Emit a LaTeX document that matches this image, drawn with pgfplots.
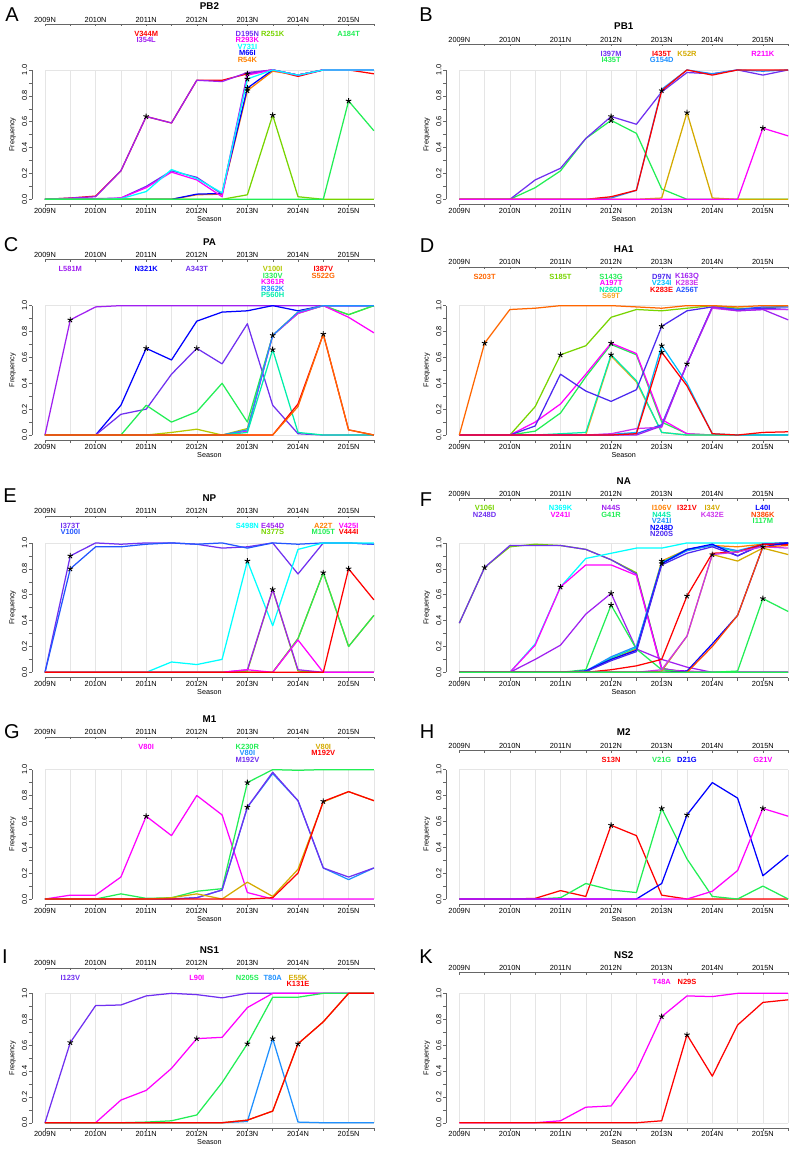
\documentclass[border=0pt]{standalone}
\usepackage{fontspec}
\setmainfont{Liberation Sans}
\usepackage{pgfplots}
\usepackage{pgfplotstable}
\pgfplotsset{compat=1.18}

\definecolor{cRed}{HTML}{FF0000}
\definecolor{cMag}{HTML}{FF00FF}
\definecolor{cPurp}{HTML}{A020F0}
\definecolor{cPMag}{HTML}{CC33EE}
\definecolor{cVio}{HTML}{7030F0}
\definecolor{cBVio}{HTML}{4B28F0}
\definecolor{cBlue}{HTML}{0000FF}
\definecolor{cRoyal}{HTML}{2255FF}
\definecolor{cDodg}{HTML}{1E90FF}
\definecolor{cDSky}{HTML}{00BFFF}
\definecolor{cCyan}{HTML}{00FFFF}
\definecolor{cAqua}{HTML}{00EEAA}
\definecolor{cGreen}{HTML}{22EE55}
\definecolor{cYG}{HTML}{77D400}
\definecolor{cOlive}{HTML}{B4C800}
\definecolor{cGold}{HTML}{D4AA00}
\definecolor{cGoldB}{HTML}{F5A623}
\definecolor{cOrng}{HTML}{FF8000}
\definecolor{cOrngB}{HTML}{FF6600}
\definecolor{cORed}{HTML}{FF4500}

% frequencies per season (x = 0 is 2009N, one step per half season)
\pgfplotstableread{
x V344M I354L D195N R293K V731I M66I R54K R251K A184T
0 0 0 0 0 0 0 0 0 0
1 0.01 0.01 0 0 0 0 0 0 0
2 0.025 0.02 0.005 0 0 0 0 0 0
3 0.22 0.22 0.01 0.01 0.005 0 0 0 0
4 0.64 0.64 0.10 0.09 0.06 0 0 0 0
5 0.59 0.59 0.22 0.21 0.23 0 0 0 0
6 0.92 0.92 0.17 0.15 0.16 0.04 0.035 0 0
7 0.92 0.91 0.04 0.02 0.05 0.045 0.04 0 0
8 0.97 0.98 0.97 0.96 0.93 0.86 0.84 0.035 0
9 1 1 1 1 1 1 0.99 0.65 0
10 0.95 0.96 0.96 0.96 0.96 0.96 0.96 0.02 0
11 1 1 1 1 1 1 1 0 0
12 1 1 1 1 1 1 1 0 0.76
13 0.97 1 1 1 1 1 1 0 0.53
}\tA
\pgfplotstableread{
x I397M I435Tg I435Tr G154D K52R R211K
0 0 0 0 0 0 0
1 0 0 0 0 0 0
2 0 0 0 0 0 0
3 0.15 0.09 0 0 0 0
4 0.24 0.22 0 0 0 0
5 0.47 0.47 0 0 0 0
6 0.64 0.61 0.02 0.01 0 0
7 0.58 0.51 0.07 0.07 0 0
8 0.83 0.08 0.84 0.85 0.01 0
9 0.98 0 1 1 0.67 0
10 0.97 0 0.96 0.97 0.01 0
11 1 0 1 1 0 0
12 0.96 0 1 0.99 0 0.55
13 1 0 1 1 0 0.49
}\tB
\pgfplotstableread{
x L581M N321K A343T V100I I330V K361R R362K P560H I387V S522G
0 0 0 0 0 0 0 0 0 0 0
1 0.89 0 0 0 0 0 0 0 0 0
2 0.99 0 0 0 0 0 0 0 0 0
3 1 0.23 0.16 0 0 0 0 0 0 0
4 1 0.67 0.20 0 0.23 0 0 0 0 0
5 1 0.58 0.47 0.02 0.10 0 0 0 0 0
6 1 0.88 0.67 0.045 0.18 0 0 0 0 0
7 1 0.95 0.55 0 0.40 0 0 0 0 0
8 1 0.96 0.86 0.05 0.10 0.03 0.04 0.02 0 0
9 1 1 0.23 0.77 0.77 0.77 0.77 0.66 0 0
10 1 0.96 0.01 0.95 0.94 0.94 0.95 0.02 0.24 0.22
11 1 1 0 1 1 1 1 0 0.78 0.78
12 1 1 0 0.93 0.93 0.91 1 0 0.04 0.04
13 1 1 0 1 1 0.79 1 0 0 0
}\tC
\pgfplotstableread{
x S203T S185T S143G A197T N260D S69T D97N V234I K283Er K163Q K283Ep A256T
0 0 0 0 0 0 0 0 0 0 0 0 0
1 0.71 0 0 0 0 0 0 0 0 0 0 0
2 0.97 0 0 0 0 0 0 0 0 0 0 0
3 0.98 0.22 0.03 0.10 0 0 0.07 0 0 0 0 0
4 1 0.62 0.17 0.24 0.01 0 0.47 0 0 0 0 0
5 1 0.69 0.45 0.47 0.02 0 0.34 0 0 0 0 0
6 1 0.91 0.70 0.71 0.62 0.61 0.26 0.005 0 0 0.01 0
7 0.99 0.97 0.62 0.63 0.42 0.41 0.35 0.02 0.01 0 0.05 0.01
8 0.98 0.96 0.10 0.12 0.02 0.02 0.84 0.69 0.64 0.07 0.06 0.08
9 1 0.98 0.01 0.01 0 0 0.96 0.40 0.38 0.55 0.55 0.55
10 1 1 0 0 0 0 0.99 0.01 0.01 0.99 0.98 0.99
11 0.99 0.98 0 0 0 0 0.97 0 0 0.96 0.96 0.97
12 1 0.98 0 0 0 0 0.98 0 0.02 0.97 0.97 0.99
13 1 1 0 0 0 0 0.97 0 0.025 0.89 0.97 0.99
}\tD
\pgfplotstableread{
x I373T V100I S498N E454D N377S A22T M105T V425I V444I
0 0 0 0 0 0 0 0 0 0
1 0.90 0.80 0 0 0 0 0 0 0
2 1 0.97 0 0 0 0 0 0 0
3 0.99 0.97 0 0 0 0 0 0 0
4 1 0.99 0 0 0 0 0 0 0
5 1 1 0.08 0 0 0 0 0 0
6 0.99 0.99 0.06 0 0 0 0 0 0
7 0.96 1 0.10 0 0 0 0 0 0
8 0.97 0.96 0.86 0.02 0.01 0 0 0.02 0
9 1 1 0.36 0.64 0.64 0 0 0 0
10 0.76 0.99 0.95 0.02 0.01 0.26 0.26 0.25 0
11 1 1 1 0 0 0.77 0.77 0 0
12 1 1 1 0 0 0.20 0.20 0 0.80
13 0.99 0.99 1 0 0 0.44 0.44 0 0.56
}\tE
\pgfplotstableread{
x V106I N248Dv N369K V241Im N44Sp G41R I106V N44Sa V241Id N248Db N200S I321V I34V K432E L40I N386K I117M
0 0.38 0.38 0 0 0 0 0 0 0 0 0 0 0 0 0 0 0
1 0.81 0.81 0 0 0 0 0 0 0 0 0 0 0 0 0 0 0
2 0.97 0.98 0 0 0 0 0 0 0 0 0 0 0 0 0 0 0
3 0.99 0.98 0.22 0.21 0.10 0 0 0 0 0 0 0 0 0 0 0 0
4 0.98 0.98 0.66 0.66 0.21 0 0 0 0 0 0 0 0 0 0 0 0
5 0.95 0.95 0.88 0.83 0.45 0.02 0.01 0.01 0.01 0.01 0.005 0 0 0 0 0 0
6 0.87 0.87 0.92 0.83 0.61 0.52 0.10 0.11 0.12 0.10 0.09 0.02 0 0 0 0 0
7 0.77 0.76 0.96 0.75 0.18 0.18 0.18 0.19 0.20 0.17 0.16 0.05 0 0 0 0 0
8 0.03 0.03 0.96 0.02 0.10 0.02 0.86 0.85 0.84 0.84 0.83 0.10 0.01 0.02 0 0 0
9 0 0 1 0.01 0.04 0 0.95 0.95 0.94 0.95 0.92 0.59 0.28 0.28 0.01 0 0
10 0 0 1 0 0 0 0.98 0.98 0.98 0.99 0.97 0.92 0.91 0.91 0.22 0.20 0
11 0 0 1 0 0 0 0.97 0.93 0.94 0.90 0.90 0.93 0.86 0.93 0.44 0.44 0.01
12 0 0 1 0 0 0 0.99 0.99 0.99 0.99 0.99 0.99 0.96 0.97 0.97 0.97 0.57
13 0 0 1 0 0 0 1 1 1 1 1 0.99 0.91 0.96 1 0.98 0.47
}\tF
\pgfplotstableread{
x V80Im K230R V80Id M192Vv V80Ig M192Vr
0 0 0 0 0 0 0
1 0.03 0 0 0 0 0
2 0.03 0 0 0 0 0
3 0.17 0.04 0 0 0 0
4 0.64 0.005 0 0 0 0
5 0.49 0.01 0 0 0.01 0
6 0.80 0.06 0.01 0.01 0.04 0
7 0.65 0.08 0.07 0.07 0 0
8 0.05 0.90 0.71 0.71 0.13 0
9 0 1 0.97 0.98 0.02 0.01
10 0 0.995 0.76 0.76 0.23 0.20
11 0 1 0.24 0.24 0.75 0.755
12 0 1 0.15 0.17 0.83 0.83
13 0 1 0.24 0.24 0.76 0.76
}\tG
\pgfplotstableread{
x S13N V21G D21G G21V
0 0 0 0 0
1 0 0 0 0
2 0 0 0 0
3 0.005 0 0 0
4 0.065 0.01 0 0
5 0.02 0.12 0 0
6 0.57 0.07 0 0
7 0.49 0.05 0 0
8 0.03 0.70 0.12 0
9 0 0.31 0.65 0
10 0 0.02 0.90 0.06
11 0 0 0.78 0.22
12 0 0.10 0.18 0.70
13 0 0 0.34 0.64
}\tH
\pgfplotstableread{
x I123V L90I N205S T80A E55K K131E
0 0 0 0 0 0 0
1 0.62 0 0 0 0 0
2 0.905 0 0 0 0 0
3 0.91 0.175 0 0 0 0
4 0.98 0.25 0.005 0 0 0
5 1 0.42 0.015 0 0 0
6 0.99 0.65 0.06 0 0 0
7 0.965 0.66 0.31 0 0 0
8 1 0.89 0.61 0.01 0.02 0.02
9 1 1 0.97 0.65 0.09 0.09
10 1 1 0.97 0.005 0.61 0.61
11 1 1 1 0 0.78 0.78
12 1 1 1 0 1 1
13 1 1 1 0 1 1
}\tI
\pgfplotstableread{
x T48A N29S
0 0 0
1 0 0
2 0 0
3 0 0
4 0.015 0
5 0.12 0
6 0.13 0
7 0.40 0
8 0.82 0.015
9 0.98 0.68
10 0.975 0.36
11 1 0.755
12 1 0.93
13 1 0.95
}\tK

\newcommand{\fs}[1]{\fontsize{#1}{#1}\selectfont}

\pgfplotsset{
  /pgf/number format/assume math mode=true,
  mainax/.style={
    scale only axis, width=355.2pt, height=139.75pt, anchor=south west,
    xmin=-0.52, xmax=13.52, ymin=-0.04, ymax=1.04,
    axis line style={draw=none},
    tick pos=left, tick align=outside,
    major tick length=3pt, minor tick length=3pt,
    tick style={black!60, line width=0.4pt},
    xtick={0,...,13},
    xticklabels={2009N,,2010N,,2011N,,2012N,,2013N,,2014N,,2015N,},
    ytick={0,0.2,0.4,0.6,0.8,1},
    minor ytick={0.1,0.3,0.5,0.7,0.9},
    tick label style={font=\fs{7.4}},
    xticklabel style={inner sep=0.5pt},
    yticklabel style={rotate=90, anchor=south, inner sep=1.5pt,
      /pgf/number format/.cd, fixed, fixed zerofill, precision=1},
    xlabel={Season}, ylabel={Frequency},
    label style={font=\fs{7.2}},
    xlabel shift=-1pt, ylabel shift=1pt,
    clip=false,
    every axis plot/.append style={line width=1.25pt, line join=round},
  },
  topax/.style={
    scale only axis, width=328.9pt, height=1pt, anchor=north west,
    xmin=0, xmax=13, ymin=0, ymax=1,
    axis x line=top, axis y line=none,
    x axis line style={-, black!60, line width=0.4pt},
    tick align=inside, major tick length=2.5pt,
    tick style={black!60, line width=0.4pt},
    xtick={0,...,13},
    xticklabels={2009N,,2010N,,2011N,,2012N,,2013N,,2014N,,2015N,},
    tick label style={font=\fs{7.4}, inner sep=1.5pt},
    clip=false,
  },
  starp/.style={only marks, mark=star, mark size=2.9pt, black,
    mark options={line width=0.9pt}},
}
\tikzset{
  gridc/.style={black!10, line width=0.4pt},
  axc/.style={black!60, line width=0.4pt},
  labst/.style={font=\fs{7.5}\bfseries, inner sep=0pt},
  ttl/.style={font=\fs{9.8}\bfseries},
  letter/.style={font=\fs{20}},
}
% R-like frame: light grid, axis lines only over the data range
\newcommand{\rgrid}{%
  \pgfplotsinvokeforeach{0,...,13}{\draw[gridc] (axis cs:##1,0) -- (axis cs:##1,1);}%
  \draw[gridc] (axis cs:0,1) -- (axis cs:13,1);
  \draw[gridc] (axis cs:0,0) -- (axis cs:13,0);
  \draw[axc] (axis cs:0,-0.04) -- (axis cs:13,-0.04);
  \draw[axc] (axis cs:-0.52,0) -- (axis cs:-0.52,1);}
% mutation label: x position, y offset below the top scale, colour, text
\newcommand{\lab}[4]{\node[labst,text=#3] at (axis cs:#1,#2) {#4};}

\begin{document}
\begin{tikzpicture}
\useasboundingbox (0,0) rectangle (794pt,-1150pt);

% ---------------- A  PB2
\begin{axis}[mainax, at={(31.84pt,-204.5pt)}]
\rgrid
\addplot[cRed] table[x=x,y=V344M]{\tA};
\addplot[cPurp] table[x=x,y=I354L]{\tA};
\addplot[cOrng] table[x=x,y=R54K]{\tA};
\addplot[cBlue] table[x=x,y=M66I]{\tA};
\addplot[cVio] table[x=x,y=D195N]{\tA};
\addplot[cMag] table[x=x,y=R293K]{\tA};
\addplot[cCyan] table[x=x,y=V731I]{\tA};
\addplot[cYG] table[x=x,y=R251K]{\tA};
\addplot[cGreen] table[x=x,y=A184T]{\tA};
\addplot[starp] coordinates {(4,0.64)(8,0.97)(8,0.93)(8,0.86)(8,0.84)(9,0.65)(12,0.76)};
\end{axis}
\begin{axis}[topax, at={(45pt,-24pt)}]
\node[ttl] at (axis cs:6.5,18.5) {PB2};
\lab{4}{-9}{cRed}{V344M}
\lab{4}{-15.4}{cPurp}{I354L}
\lab{8}{-9}{cVio}{D195N}
\lab{8}{-15.4}{cMag}{R293K}
\lab{8}{-21.8}{cCyan}{V731I}
\lab{8}{-28.2}{cBlue}{M66I}
\lab{8}{-34.6}{cOrng}{R54K}
\lab{9}{-9}{cYG}{R251K}
\lab{12}{-9}{cGreen}{A184T}
\end{axis}
\node[letter] at (12pt,-15pt) {A};

% ---------------- B  PB1
\begin{axis}[mainax, at={(446.14pt,-204.5pt)}]
\rgrid
\addplot[cGreen] table[x=x,y=I435Tg]{\tB};
\addplot[cVio] table[x=x,y=I397M]{\tB};
\addplot[cDodg] table[x=x,y=G154D]{\tB};
\addplot[cRed] table[x=x,y=I435Tr]{\tB};
\addplot[cGold] table[x=x,y=K52R]{\tB};
\addplot[cMag] table[x=x,y=R211K]{\tB};
\addplot[starp] coordinates {(6,0.64)(6,0.61)(8,0.84)(9,0.67)(12,0.55)};
\end{axis}
\begin{axis}[topax, at={(459.3pt,-44pt)}]
\node[ttl] at (axis cs:6.5,18.5) {PB1};
\lab{6}{-9}{cVio}{I397M}
\lab{6}{-15.4}{cGreen}{I435T}
\lab{8}{-9}{cRed}{I435T}
\lab{8}{-15.4}{cDodg}{G154D}
\lab{9}{-9}{cGold}{K52R}
\lab{12}{-9}{cMag}{R211K}
\end{axis}
\node[letter] at (426pt,-15pt) {B};

% ---------------- C  PA
\begin{axis}[mainax, at={(31.84pt,-440.2pt)}]
\rgrid
\addplot[cPurp] table[x=x,y=L581M]{\tC};
\addplot[cBlue] table[x=x,y=N321K]{\tC};
\addplot[cVio] table[x=x,y=A343T]{\tC};
\addplot[cOlive] table[x=x,y=V100I]{\tC};
\addplot[cGreen] table[x=x,y=I330V]{\tC};
\addplot[cMag] table[x=x,y=K361R]{\tC};
\addplot[cDodg] table[x=x,y=R362K]{\tC};
\addplot[cAqua] table[x=x,y=P560H]{\tC};
\addplot[cRed] table[x=x,y=I387V]{\tC};
\addplot[cOrngB] table[x=x,y=S522G]{\tC};
\addplot[starp] coordinates {(1,0.89)(4,0.67)(6,0.67)(9,0.77)(9,0.66)(11,0.78)};
\end{axis}
\begin{axis}[topax, at={(45pt,-259.3pt)}]
\node[ttl] at (axis cs:6.5,18.5) {PA};
\lab{1}{-9}{cPurp}{L581M}
\lab{4}{-9}{cBlue}{N321K}
\lab{6}{-9}{cVio}{A343T}
\lab{9}{-9}{cOlive}{V100I}
\lab{9}{-15.4}{cGreen}{I330V}
\lab{9}{-21.8}{cMag}{K361R}
\lab{9}{-28.2}{cDodg}{R362K}
\lab{9}{-34.6}{cAqua}{P560H}
\lab{11}{-9}{cRed}{I387V}
\lab{11}{-15.4}{cOrngB}{S522G}
\end{axis}
\node[letter] at (11pt,-245pt) {C};

% ---------------- D  HA1
\begin{axis}[mainax, at={(446.14pt,-440.2pt)}]
\rgrid
\addplot[cYG] table[x=x,y=S185T]{\tD};
\addplot[cGreen] table[x=x,y=S143G]{\tD};
\addplot[cMag] table[x=x,y=A197T]{\tD};
\addplot[cGoldB] table[x=x,y=S69T]{\tD};
\addplot[cAqua] table[x=x,y=N260D]{\tD};
\addplot[cBVio] table[x=x,y=D97N]{\tD};
\addplot[cDSky] table[x=x,y=V234I]{\tD};
\addplot[cRoyal] table[x=x,y=A256T]{\tD};
\addplot[cPMag] table[x=x,y=K283Ep]{\tD};
\addplot[cPurp] table[x=x,y=K163Q]{\tD};
\addplot[cRed] table[x=x,y=K283Er]{\tD};
\addplot[cOrngB] table[x=x,y=S203T]{\tD};
\addplot[starp] coordinates {(1,0.71)(4,0.62)(6,0.71)(6,0.62)(8,0.84)(8,0.69)(8,0.64)(9,0.55)};
\end{axis}
\begin{axis}[topax, at={(459.3pt,-266.7pt)}]
\node[ttl] at (axis cs:6.5,18.5) {HA1};
\lab{1}{-9}{cOrngB}{S203T}
\lab{4}{-9}{cYG}{S185T}
\lab{6}{-9}{cGreen}{S143G}
\lab{6}{-15.4}{cMag}{A197T}
\lab{6}{-21.8}{cAqua}{N260D}
\lab{6}{-28.2}{cGoldB}{S69T}
\lab{8}{-9}{cBVio}{D97N}
\lab{8}{-15.4}{cDSky}{V234I}
\lab{8}{-21.8}{cRed}{K283E}
\lab{9}{-9}{cPurp}{K163Q}
\lab{9}{-15.4}{cPMag}{K283E}
\lab{9}{-21.8}{cRoyal}{A256T}
\end{axis}
\node[letter] at (427pt,-246pt) {D};

% ---------------- E  NP
\begin{axis}[mainax, at={(31.84pt,-677.5pt)}]
\rgrid
\addplot[cVio] table[x=x,y=I373T]{\tE};
\addplot[cRoyal] table[x=x,y=V100I]{\tE};
\addplot[cCyan] table[x=x,y=S498N]{\tE};
\addplot[cYG] table[x=x,y=N377S]{\tE};
\addplot[cPurp] table[x=x,y=E454D]{\tE};
\addplot[cOrng] table[x=x,y=A22T]{\tE};
\addplot[cGreen] table[x=x,y=M105T]{\tE};
\addplot[cMag] table[x=x,y=V425I]{\tE};
\addplot[cRed] table[x=x,y=V444I]{\tE};
\addplot[starp] coordinates {(1,0.90)(1,0.80)(8,0.86)(9,0.64)(11,0.77)(12,0.80)};
\end{axis}
\begin{axis}[topax, at={(45pt,-515.7pt)}]
\node[ttl] at (axis cs:6.5,18.5) {NP};
\lab{1}{-9}{cVio}{I373T}
\lab{1}{-15.4}{cRoyal}{V100I}
\lab{8}{-9}{cCyan}{S498N}
\lab{9}{-9}{cPurp}{E454D}
\lab{9}{-15.4}{cYG}{N377S}
\lab{11}{-9}{cOrng}{A22T}
\lab{11}{-15.4}{cGreen}{M105T}
\lab{12}{-9}{cMag}{V425I}
\lab{12}{-15.4}{cRed}{V444I}
\end{axis}
\node[letter] at (10pt,-496pt) {E};

% ---------------- F  NA
\begin{axis}[mainax, at={(446.14pt,-677.5pt)}]
\rgrid
\addplot[cYG] table[x=x,y=V106I]{\tF};
\addplot[cVio] table[x=x,y=N248Dv]{\tF};
\addplot[cCyan] table[x=x,y=N369K]{\tF};
\addplot[cMag] table[x=x,y=V241Im]{\tF};
\addplot[cPurp] table[x=x,y=N44Sp]{\tF};
\addplot[cGreen] table[x=x,y=G41R]{\tF};
\addplot[cOrng] table[x=x,y=I106V]{\tF};
\addplot[cAqua] table[x=x,y=N44Sa]{\tF};
\addplot[cDodg] table[x=x,y=V241Id]{\tF};
\addplot[cBlue] table[x=x,y=N248Db]{\tF};
\addplot[cBVio] table[x=x,y=N200S]{\tF};
\addplot[cRed] table[x=x,y=I321V]{\tF};
\addplot[cGold] table[x=x,y=I34V]{\tF};
\addplot[cPMag] table[x=x,y=K432E]{\tF};
\addplot[cBlue] table[x=x,y=L40I]{\tF};
\addplot[cORed] table[x=x,y=N386K]{\tF};
\addplot[cGreen] table[x=x,y=I117M]{\tF};
\addplot[starp] coordinates {(1,0.81)(4,0.66)(6,0.61)(6,0.52)(8,0.86)(8,0.84)(9,0.59)(10,0.91)(12,0.97)(12,0.57)};
\end{axis}
\begin{axis}[topax, at={(459.3pt,-498.3pt)}]
\node[ttl] at (axis cs:6.5,18.5) {NA};
\lab{1}{-9}{cYG}{V106I}
\lab{1}{-15.4}{cVio}{N248D}
\lab{4}{-9}{cCyan}{N369K}
\lab{4}{-15.4}{cMag}{V241I}
\lab{6}{-9}{cPurp}{N44S}
\lab{6}{-15.4}{cGreen}{G41R}
\lab{8}{-9}{cOrng}{I106V}
\lab{8}{-15.4}{cAqua}{N44S}
\lab{8}{-21.8}{cDodg}{V241I}
\lab{8}{-28.2}{cBlue}{N248D}
\lab{8}{-34.6}{cBVio}{N200S}
\lab{9}{-9}{cRed}{I321V}
\lab{10}{-9}{cGold}{I34V}
\lab{10}{-15.4}{cPMag}{K432E}
\lab{12}{-9}{cBlue}{L40I}
\lab{12}{-15.4}{cORed}{N386K}
\lab{12}{-21.8}{cGreen}{I117M}
\end{axis}
\node[letter] at (426pt,-500pt) {F};

% ---------------- G  M1
\begin{axis}[mainax, at={(31.84pt,-904.2pt)}]
\rgrid
\addplot[cMag] table[x=x,y=V80Im]{\tG};
\addplot[cGreen] table[x=x,y=K230R]{\tG};
\addplot[cDodg] table[x=x,y=V80Id]{\tG};
\addplot[cVio] table[x=x,y=M192Vv]{\tG};
\addplot[cGold] table[x=x,y=V80Ig]{\tG};
\addplot[cRed] table[x=x,y=M192Vr]{\tG};
\addplot[starp] coordinates {(4,0.64)(8,0.90)(8,0.71)(11,0.755)};
\end{axis}
\begin{axis}[topax, at={(45pt,-736.7pt)}]
\node[ttl] at (axis cs:6.5,18.5) {M1};
\lab{4}{-9}{cMag}{V80I}
\lab{8}{-9}{cGreen}{K230R}
\lab{8}{-15.4}{cDodg}{V80I}
\lab{8}{-21.8}{cVio}{M192V}
\lab{11}{-9}{cGold}{V80I}
\lab{11}{-15.4}{cRed}{M192V}
\end{axis}
\node[letter] at (12pt,-732pt) {G};

% ---------------- H  M2
\begin{axis}[mainax, at={(446.14pt,-904.2pt)}]
\rgrid
\addplot[cRed] table[x=x,y=S13N]{\tH};
\addplot[cGreen] table[x=x,y=V21G]{\tH};
\addplot[cBlue] table[x=x,y=D21G]{\tH};
\addplot[cMag] table[x=x,y=G21V]{\tH};
\addplot[starp] coordinates {(6,0.57)(8,0.70)(9,0.65)(12,0.70)};
\end{axis}
\begin{axis}[topax, at={(459.3pt,-750pt)}]
\node[ttl] at (axis cs:6.5,18.5) {M2};
\lab{6}{-9}{cRed}{S13N}
\lab{8}{-9}{cGreen}{V21G}
\lab{9}{-9}{cBlue}{D21G}
\lab{12}{-9}{cMag}{G21V}
\end{axis}
\node[letter] at (427pt,-732pt) {H};

% ---------------- I  NS1
\begin{axis}[mainax, at={(31.84pt,-1127.9pt)}]
\rgrid
\addplot[cVio] table[x=x,y=I123V]{\tI};
\addplot[cMag] table[x=x,y=L90I]{\tI};
\addplot[cGreen] table[x=x,y=N205S]{\tI};
\addplot[cDodg] table[x=x,y=T80A]{\tI};
\addplot[cGold] table[x=x,y=E55K]{\tI};
\addplot[cRed] table[x=x,y=K131E]{\tI};
\addplot[starp] coordinates {(1,0.62)(6,0.65)(8,0.61)(9,0.65)(10,0.61)};
\end{axis}
\begin{axis}[topax, at={(45pt,-967.7pt)}]
\node[ttl] at (axis cs:6.5,18.5) {NS1};
\lab{1}{-9}{cVio}{I123V}
\lab{6}{-9}{cMag}{L90I}
\lab{8}{-9}{cGreen}{N205S}
\lab{9}{-9}{cDodg}{T80A}
\lab{10}{-9}{cGold}{E55K}
\lab{10}{-15.4}{cRed}{K131E}
\end{axis}
\node[letter] at (5pt,-957pt) {I};

% ---------------- K  NS2
\begin{axis}[mainax, at={(446.14pt,-1127.9pt)}]
\rgrid
\addplot[cMag] table[x=x,y=T48A]{\tK};
\addplot[cRed] table[x=x,y=N29S]{\tK};
\addplot[starp] coordinates {(8,0.82)(9,0.68)};
\end{axis}
\begin{axis}[topax, at={(459.3pt,-972.3pt)}]
\node[ttl] at (axis cs:6.5,18.5) {NS2};
\lab{8}{-9}{cMag}{T48A}
\lab{9}{-9}{cRed}{N29S}
\end{axis}
\node[letter] at (426pt,-957pt) {K};
\end{tikzpicture}
\end{document}
